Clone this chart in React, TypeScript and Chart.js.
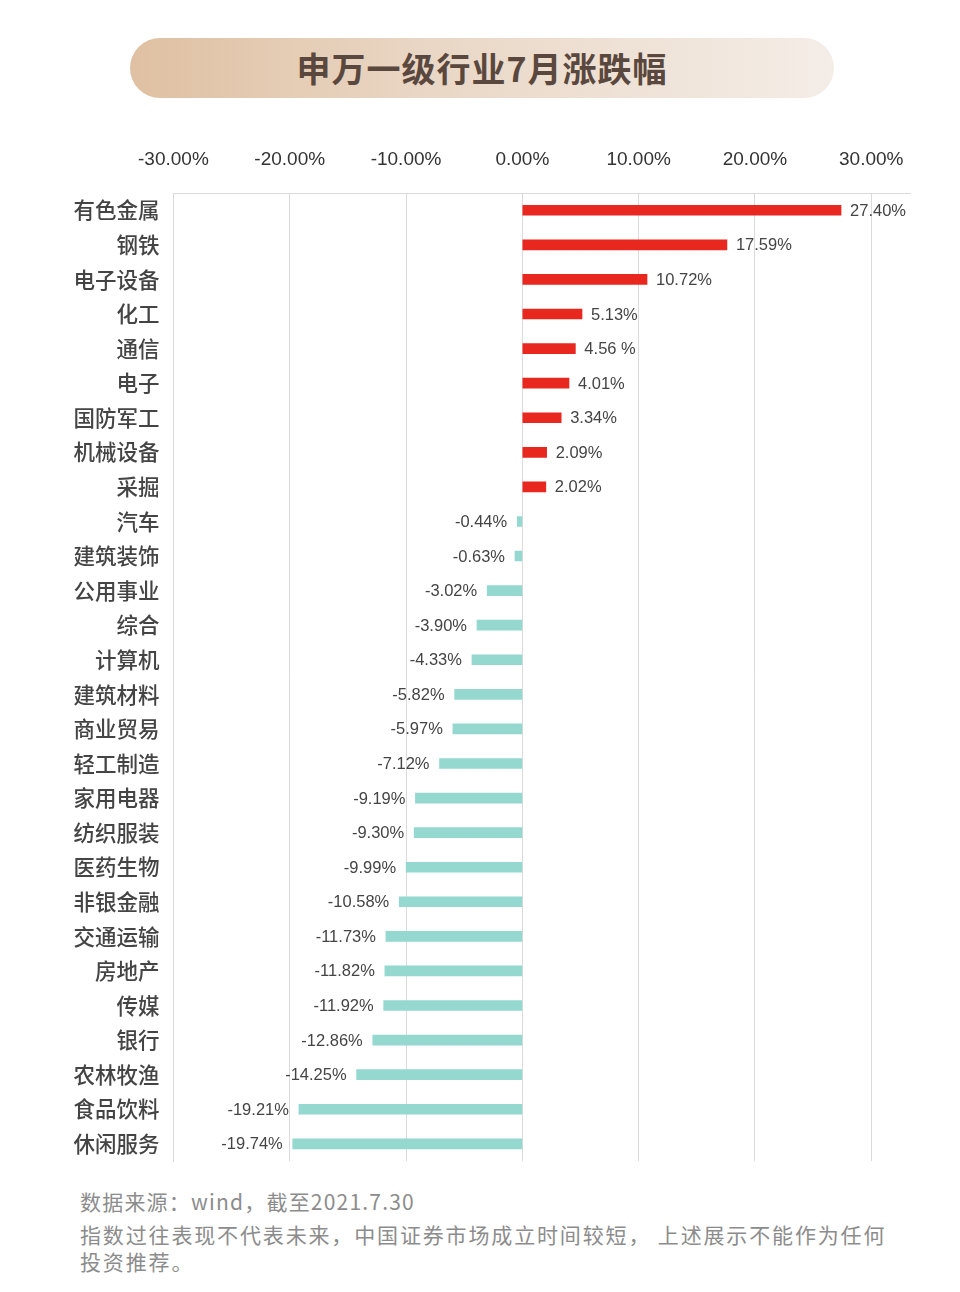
import React, { useEffect, useRef } from 'react';
import { Chart, registerables } from 'chart.js';

Chart.register(...registerables);

const categories = [
  '有色金属', '钢铁', '电子设备', '化工', '通信', '电子', '国防军工', '机械设备', '采掘',
  '汽车', '建筑装饰', '公用事业', '综合', '计算机', '建筑材料', '商业贸易', '轻工制造',
  '家用电器', '纺织服装', '医药生物', '非银金融', '交通运输', '房地产', '传媒', '银行',
  '农林牧渔', '食品饮料', '休闲服务',
];

const values = [
  27.4, 17.59, 10.72, 5.13, 4.56, 4.01, 3.34, 2.09, 2.02,
  -0.44, -0.63, -3.02, -3.9, -4.33, -5.82, -5.97, -7.12,
  -9.19, -9.3, -9.99, -10.58, -11.73, -11.82, -11.92, -12.86,
  -14.25, -19.21, -19.74,
];

const valueLabels = [
  '27.40%', '17.59%', '10.72%', '5.13%', '4.56 %', '4.01%', '3.34%', '2.09%', '2.02%',
  '-0.44%', '-0.63%', '-3.02%', '-3.90%', '-4.33%', '-5.82%', '-5.97%', '-7.12%',
  '-9.19%', '-9.30%', '-9.99%', '-10.58%', '-11.73%', '-11.82%', '-11.92%', '-12.86%',
  '-14.25%', '-19.21%', '-19.74%',
];

const xTickValues = [-30, -20, -10, 0, 10, 20, 30];
const xMin = -30;
const xMax = 33.33;

const title = '申万一级行业7月涨跌幅';
const sourceNote = '数据来源：wind，截至2021.7.30';
const disclaimerLine1 = '指数过往表现不代表未来，中国证券市场成立时间较短， 上述展示不能作为任何';
const disclaimerLine2 = '投资推荐。';

const RED = '#e8271f';
const TEAL = '#94d8d0';
const GRID = '#dadada';
const FAMILY = '"Liberation Sans", "Noto Sans CJK SC", Arial, sans-serif';
const CJK_FAMILY = '"Noto Sans CJK SC", "Liberation Sans", sans-serif';

const valueLabelPlugin = {
  id: 'valueLabelPlugin',
  afterDatasetsDraw(chart: any) {
    const ctx = chart.ctx;
    const meta = chart.getDatasetMeta(0);
    ctx.save();
    ctx.font = `16.5px ${FAMILY}`;
    ctx.fillStyle = '#444444';
    ctx.textBaseline = 'middle';
    meta.data.forEach((el: any, i: number) => {
      const { x, y } = el.getProps(['x', 'y'], true);
      if (values[i] >= 0) {
        ctx.textAlign = 'left';
        ctx.fillText(valueLabels[i], x + 9, y + 1);
      } else {
        ctx.textAlign = 'right';
        ctx.fillText(valueLabels[i], x - 10, y + 1);
      }
    });
    ctx.restore();
  },
};

function BarChart() {
  const ref = useRef<HTMLCanvasElement | null>(null);
  useEffect(() => {
    if (!ref.current) return;
    const chart = new Chart(ref.current, {
      type: 'bar',
      data: {
        labels: categories,
        datasets: [
          {
            data: values,
            backgroundColor: values.map((v) => (v >= 0 ? RED : TEAL)),
            barThickness: 10,
            borderWidth: 0,
          },
        ],
      },
      options: {
        indexAxis: 'y',
        animation: false,
        responsive: false,
        maintainAspectRatio: false,
        devicePixelRatio: 1,
        layout: { padding: { left: 0, right: 50, top: 0, bottom: 9 } },
        plugins: {
          legend: { display: false },
          tooltip: { enabled: false },
        },
        scales: {
          x: {
            type: 'linear',
            position: 'top',
            min: xMin,
            max: xMax,
            afterBuildTicks: (axis: any) => {
              axis.ticks = xTickValues.map((v) => ({ value: v }));
            },
            afterFit: (axis: any) => {
              axis.height = 63;
            },
            ticks: {
              autoSkip: false,
              maxRotation: 0,
              padding: 22,
              color: '#333333',
              font: { size: 19, family: FAMILY },
              callback: (v: any) => `${Number(v).toFixed(2)}%`,
            },
            grid: { color: GRID, drawTicks: false, lineWidth: 1 },
            border: { display: true, color: GRID },
          },
          y: {
            type: 'category',
            afterFit: (axis: any) => {
              axis.width = 173.4;
            },
            ticks: {
              autoSkip: false,
              padding: 6,
              color: '#444444',
              font: { size: 21.5, weight: '500', family: CJK_FAMILY },
            },
            grid: { display: false },
            border: { display: true, color: GRID },
          },
        },
      },
      plugins: [valueLabelPlugin],
    } as any);
    return () => chart.destroy();
  }, []);
  return (
    <canvas
      ref={ref}
      width={960}
      height={1050}
      style={{ position: 'absolute', left: 0, top: 130, width: 960, height: 1050 }}
    />
  );
}

export default function App() {
  return (
    <div
      style={{
        position: 'absolute',
        left: 0,
        top: 0,
        width: 960,
        height: 1292,
        background: '#ffffff',
        overflow: 'hidden',
      }}
    >
      <div
        style={{
          position: 'absolute',
          left: 130,
          top: 38,
          width: 704,
          height: 60,
          borderRadius: 30,
          background: 'linear-gradient(90deg, #dfc0a2 0%, #ead8c7 45%, #f4ede7 100%)',
          color: '#5a483e',
          fontFamily: CJK_FAMILY,
          fontWeight: 700,
          fontSize: 34,
          lineHeight: '60px',
          textAlign: 'center',
          letterSpacing: 1,
        }}
      >
        {title}
      </div>
      <BarChart />
      <div
        style={{
          position: 'absolute',
          left: 80,
          top: 1186,
          fontFamily: CJK_FAMILY,
          fontSize: 21,
          lineHeight: '30px',
          color: '#8c8c8c',
          letterSpacing: 1.2,
          whiteSpace: 'nowrap',
        }}
      >
        {sourceNote}
      </div>
      <div
        style={{
          position: 'absolute',
          left: 80,
          top: 1221,
          fontFamily: CJK_FAMILY,
          fontSize: 21,
          lineHeight: '27px',
          color: '#8c8c8c',
          letterSpacing: 1.85,
          whiteSpace: 'nowrap',
        }}
      >
        <div>{disclaimerLine1}</div>
        <div>{disclaimerLine2}</div>
      </div>
    </div>
  );
}
